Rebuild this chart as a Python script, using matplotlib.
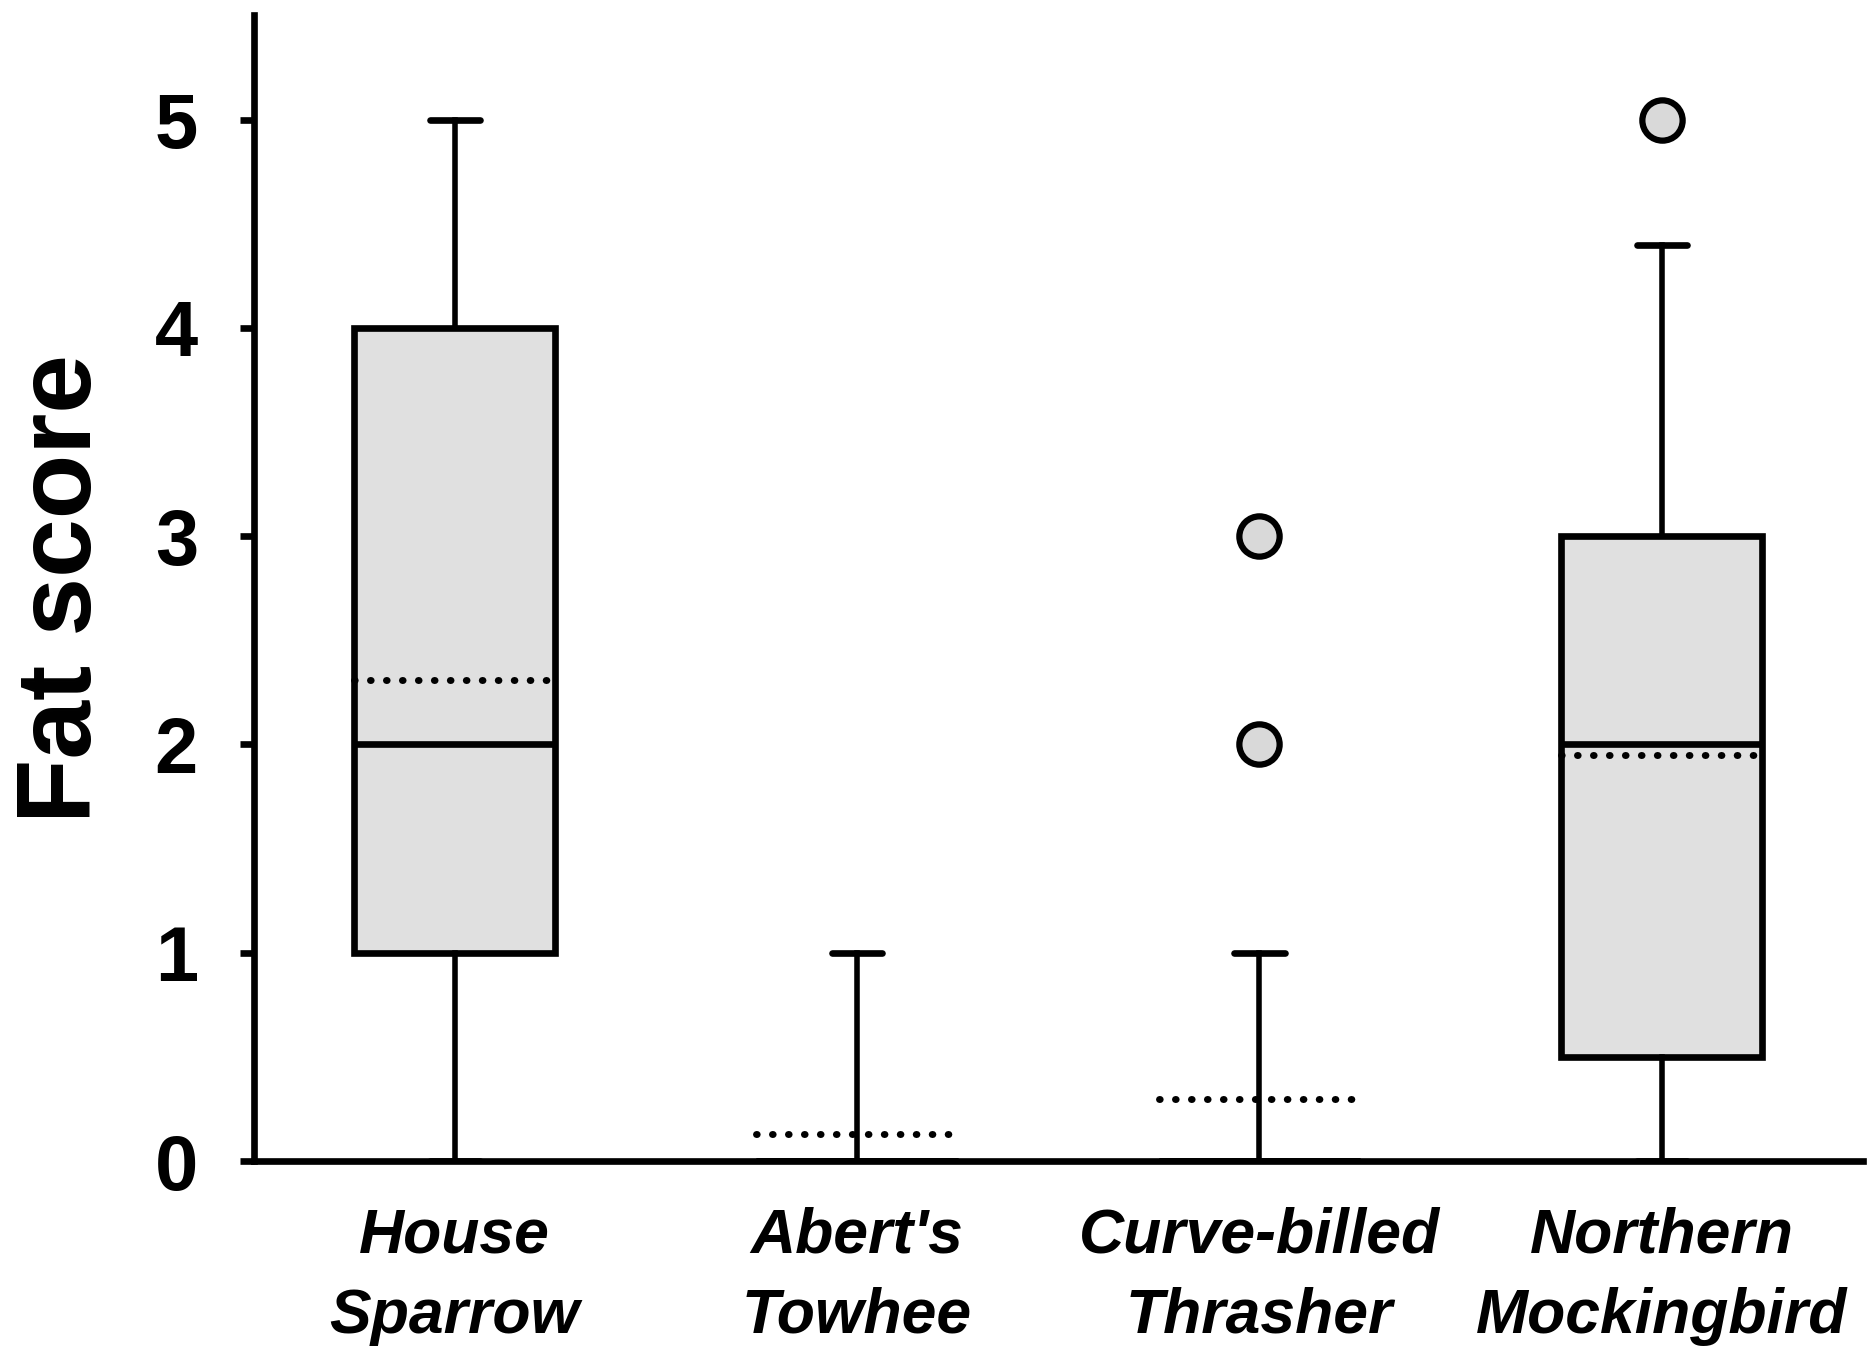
import matplotlib
matplotlib.use("Agg")
import matplotlib.pyplot as plt

plt.rcParams['font.family'] = ['Liberation Sans', 'DejaVu Sans']

categories = ["House\nSparrow", "Abert's\nTowhee", "Curve-billed\nThrasher", "Northern\nMockingbird"]
whislo = [0, 0, 0, 0]
q1 = [1, 0, 0, 0.5]
med = [2, 0, 0, 2]
q3 = [4, 0, 0, 3]
whishi = [5, 1, 1, 4.4]
means = [2.31, 0.13, 0.30, 1.95]
fliers = [[], [], [2, 3], [5]]

stats = []
for i in range(len(categories)):
    stats.append(dict(label=categories[i], whislo=whislo[i], q1=q1[i], med=med[i],
                      q3=q3[i], whishi=whishi[i], mean=means[i], fliers=fliers[i]))

fig = plt.figure(figsize=(18.67, 13.51), dpi=100)
ax = fig.add_axes([0.1358, 0.1406, 0.862, 0.848])

lw = 4.8
ax.bxp(stats, positions=[1, 2, 3, 4], widths=0.5, capwidths=0.125,
       patch_artist=True, showmeans=True, meanline=True,
       boxprops=dict(facecolor='#e0e0e0', edgecolor='black', linewidth=lw),
       medianprops=dict(color='black', linewidth=lw),
       whiskerprops=dict(color='black', linewidth=4),
       capprops=dict(color='black', linewidth=lw, solid_capstyle='round'),
       meanprops=dict(color='black', linewidth=5, linestyle=(0, (0.1, 2.2)),
                      dash_capstyle='round'),
       flierprops=dict(marker='o', markersize=29, markerfacecolor='#d9d9d9',
                       markeredgecolor='black', markeredgewidth=4.5))

ax.set_xlim(0.5, 4.5)
ax.set_ylim(0, 5.5)
ax.set_yticks([0, 1, 2, 3, 4, 5])
ax.set_yticklabels(['0', '1', '2', '3', '4', '5'], fontsize=56, fontweight='bold')
ax.set_xticklabels(categories, fontsize=45, fontweight='bold', fontstyle='italic',
                   linespacing=1.45)
ax.tick_params(axis='y', direction='out', length=10, width=lw, pad=30)
ax.tick_params(axis='x', length=0, pad=33)

for side in ['top', 'right']:
    ax.spines[side].set_visible(False)
for side in ['left', 'bottom']:
    ax.spines[side].set_linewidth(lw)

ax.set_ylabel('Fat score', fontsize=76, fontweight='bold', labelpad=30)

fig.savefig('out.png', dpi=100)
